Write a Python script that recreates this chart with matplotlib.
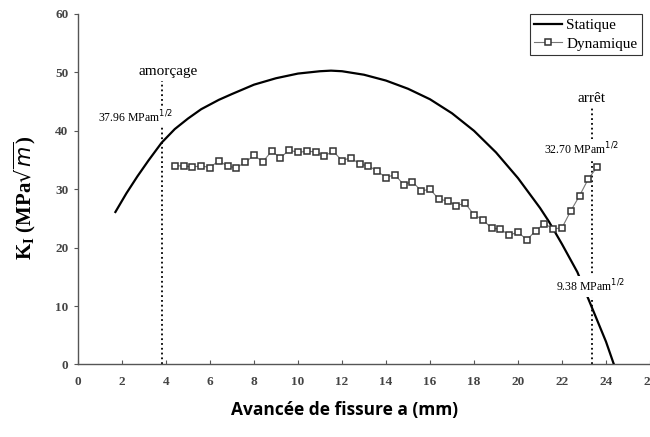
import matplotlib.pyplot as plt

# static curve
stat_x = [1.7, 2.2, 2.7, 3.2, 3.8, 4.4, 5.0, 5.6, 6.4, 7.0, 8.0, 9.0, 10.0, 11.0, 11.5,
          12.0, 13.0, 14.0, 15.0, 16.0, 17.0, 18.0, 19.0, 20.0, 21.0, 21.4, 22.0,
          22.7, 23.2, 23.4, 24.0, 24.36]
stat_y = [26.1, 29.3, 32.2, 34.9, 37.96, 40.3, 42.1, 43.7, 45.3, 46.3, 47.9, 49.0, 49.8,
          50.2, 50.3, 50.2, 49.6, 48.6, 47.2, 45.4, 43.0, 40.0, 36.3, 31.9, 26.8, 24.5,
          20.6, 15.8, 11.2, 9.38, 3.9, 0.0]

# dynamic points, every 0.4 mm from 4.4 to 23.6
dyn_x = [round(4.4 + 0.4 * i, 1) for i in range(49)]
dyn_y = [34.0, 34.0, 33.8, 34.0, 33.7, 34.9, 33.9, 33.7, 34.6, 35.8,
         34.7, 36.5, 35.4, 36.7, 36.3, 36.5, 36.4, 35.7, 36.5, 34.9,
         35.4, 34.3, 34.0, 33.1, 32.0, 32.5, 30.8, 31.3, 29.7, 30.0,
         28.3, 28.0, 27.2, 27.6, 25.6, 24.8, 23.3, 23.2, 22.1, 22.7,
         21.3, 22.9, 24.1, 23.2, 23.4, 26.3, 28.9, 31.8, 33.8]

x_init = 3.8
x_stop = 23.35

serif = 'Liberation Serif'

fig = plt.figure(figsize=(6.5, 4.37), dpi=100)
ax = fig.add_axes([0.12, 0.166, 0.88, 0.802])

ax.plot(stat_x, stat_y, color='black', lw=1.6, label='Statique', zorder=3)
ax.plot(dyn_x, dyn_y, color='#777777', lw=0.8, marker='s', ms=4.5, mfc='white',
        mec='#333333', mew=1.1, label='Dynamique', zorder=4)

# dotted markers for initiation / arrest
ax.plot([x_init, x_init], [0, 48.5], color='black', ls=':', lw=1.3, zorder=2)
ax.plot([x_stop, x_stop], [0, 44], color='black', ls=':', lw=1.3, zorder=2)

ax.text(4.1, 50.2, 'amorçage', family=serif, fontsize=11, ha='center', va='center',
        bbox=dict(fc='white', ec='none', pad=1), zorder=5)
ax.text(2.6, 42.4, r'37.96 MPam$^{1/2}$', family=serif, fontsize=8.5, ha='center',
        va='center', bbox=dict(fc='white', ec='none', pad=1), zorder=5)
ax.text(x_stop, 45.5, 'arrêt', family=serif, fontsize=11, ha='center', va='center',
        bbox=dict(fc='white', ec='none', pad=1), zorder=5)
ax.text(22.9, 36.9, r'32.70 MPam$^{1/2}$', family=serif, fontsize=8.5, ha='center',
        va='center', bbox=dict(fc='white', ec='none', pad=1), zorder=5)
ax.text(23.3, 13.4, r'9.38 MPam$^{1/2}$', family=serif, fontsize=8.5, ha='center',
        va='center', bbox=dict(fc='white', ec='none', pad=1.5), zorder=5)

ax.set_xlim(0, 26)
ax.set_ylim(0, 60)
ax.set_xticks(range(0, 27, 2))
ax.set_yticks(range(0, 61, 10))
ax.spines['top'].set_visible(False)
ax.spines['right'].set_visible(False)
for s in ('left', 'bottom'):
    ax.spines[s].set_color('#555555')
    ax.spines[s].set_linewidth(1.0)
ax.tick_params(axis='x', direction='in', length=3, color='#555555', pad=8)
ax.tick_params(axis='y', direction='out', length=3, color='#555555', pad=4)
for lab in ax.get_xticklabels() + ax.get_yticklabels():
    lab.set_family(serif)
    lab.set_fontsize(9.5)
    lab.set_fontweight('bold')
    lab.set_color('#444444')

leg = ax.legend(loc='upper right', bbox_to_anchor=(0.986, 1.0), borderaxespad=0,
                fancybox=False, edgecolor='#333333', framealpha=1,
                prop={'family': serif, 'size': 11}, handlelength=1.8,
                handletextpad=0.3, borderpad=0.3, labelspacing=0.3)
leg.get_frame().set_linewidth(0.8)

fig.text(0.53, 1 - 410 / 437, 'Avancée de fissure a (mm)', family='Open Sans',
         fontweight='bold', fontsize=12.5, ha='center', va='center')
fig.text(0.038, 1 - 198 / 437, r'K$_\mathregular{I}$ (MPa$\sqrt{m}$)', family=serif,
         fontweight='bold', fontsize=15, rotation=90, ha='center', va='center')

fig.savefig('out.png', dpi=100)
